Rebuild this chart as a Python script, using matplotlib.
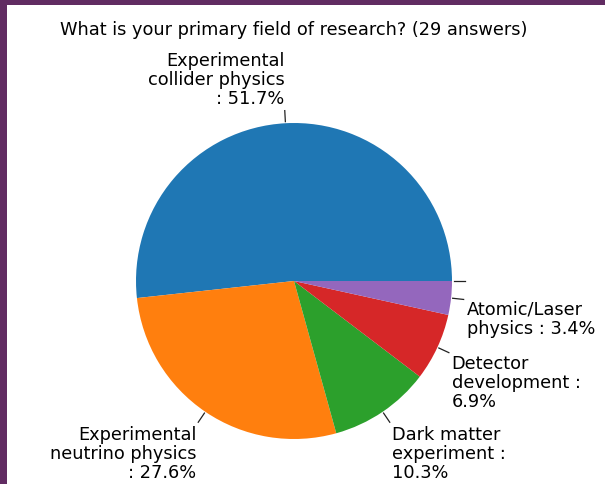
import numpy as np
import matplotlib.pyplot as plt
from matplotlib.patches import Rectangle

# survey answers (29 total)
fields = ['Experimental\ncollider physics', 'Experimental\nneutrino physics',
          'Dark matter\nexperiment', 'Detector\ndevelopment', 'Atomic/Laser\nphysics', '']
counts = [15, 8, 3, 2, 1, 0]
label_texts = ['Experimental\ncollider physics\n: 51.7%', 'Experimental\nneutrino physics\n: 27.6%',
               'Dark matter\nexperiment :\n10.3%', 'Detector\ndevelopment :\n6.9%',
               'Atomic/Laser\nphysics : 3.4%', '']
colors = ['#1f77b4', '#ff7f0e', '#2ca02c', '#d62728', '#9467bd', '#8c564b']

W, H = 605, 485
fig = plt.figure(figsize=(W / 100, H / 100), dpi=100)
fig.patch.set_facecolor('#612c62')
fig.patches.append(Rectangle((7 / W, 0), 1, 1 - 6 / H, transform=fig.transFigure,
                             facecolor='white', edgecolor='none', zorder=-5))

cx, cy, r = 294, 282, 158
ax = fig.add_axes([(cx - r) / W, (H - cy - r) / H, 2 * r / W, 2 * r / H], zorder=2)
ax.patch.set_visible(False)
wedges, _ = ax.pie(counts, startangle=0, colors=colors)
ax.set_xlim(-1, 1)
ax.set_ylim(-1, 1)
ax.axis('off')

# leader lines + labels
for w, txt in zip(wedges, label_texts):
    ang = np.deg2rad((w.theta1 + w.theta2) / 2)
    x, y = np.cos(ang), np.sin(ang)
    ax.plot([1.01 * x, 1.08 * x], [1.01 * y, 1.08 * y], color='#222222', lw=0.9,
            clip_on=False)
    ha = 'left' if x > 0.05 else 'right'
    va = 'top' if y < 0 else 'bottom'
    ax.text(1.1 * x, 1.1 * y, txt, ha=ha, va=va, fontsize=12.8, linespacing=1.08,
            clip_on=False)

fig.text(294 / W, 1 - 30 / H, 'What is your primary field of research? (29 answers)',
         ha='center', va='center', fontsize=12.8, zorder=3)

fig.savefig('out.png', dpi=100, facecolor=fig.get_facecolor())
